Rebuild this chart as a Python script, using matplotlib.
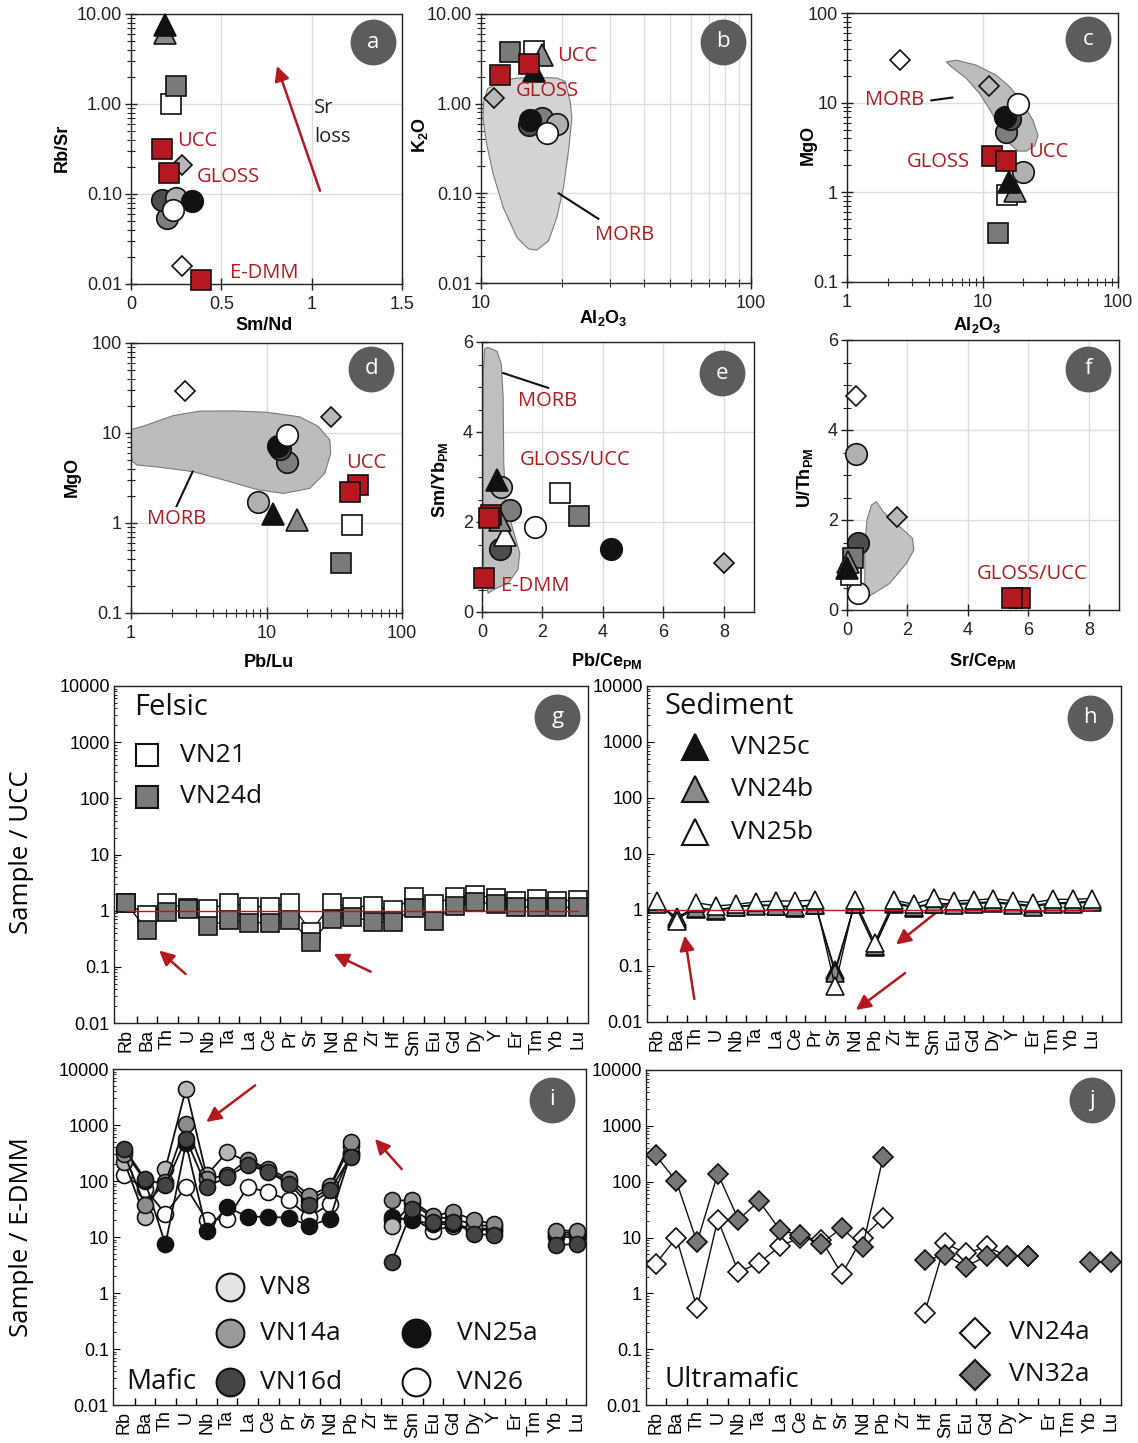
import numpy as np
import matplotlib
matplotlib.use("Agg")
import matplotlib.pyplot as plt
from matplotlib.ticker import LogLocator, MultipleLocator, NullFormatter, FixedLocator

W, H = 1138, 1443
nan = np.nan
RED = "#b3191e"
TAG = "#5c5c5c"
GRID = "#dcdcdc"
LABEL_FONT = "Open Sans"

plt.rcParams["font.family"] = ["Liberation Sans", "DejaVu Sans"]
plt.rcParams["mathtext.fontset"] = "custom"
plt.rcParams["mathtext.rm"] = "Liberation Sans"
plt.rcParams["mathtext.bf"] = "Liberation Sans:bold"

# ---------------- scatter panels a-f ----------------
SAMPLES = ["VN24a", "VN32a", "VN14a", "VN16d", "VN8", "VN25a", "VN26",
           "VN21", "VN24d", "VN25b", "VN24b", "VN25c", "GLOSS", "UCC", "E-DMM"]

A_X = [0.285, 0.28, 0.20, 0.17, 0.25, 0.34, 0.23, 0.22, 0.25, nan, 0.19, 0.19, 0.21, 0.17, 0.39]
A_Y = [0.016, 0.21, 0.054, 0.085, 0.09, 0.083, 0.066, 1.0, 1.58, nan, 6.1, 7.6, 0.17, 0.32, 0.011]

B_X = [nan, 11.2, 16.8, 15.0, 19.1, 15.2, 17.5, 15.7, 12.8, nan, 16.8, 15.7, 11.8, 15.0, nan]
B_Y = [nan, 1.17, 0.69, 0.58, 0.59, 0.66, 0.47, 3.9, 3.8, nan, 3.5, 2.3, 2.07, 2.8, nan]

C_X = [2.45, 11.2, 15.0, 16.0, 19.9, 14.6, 18.3, 15.2, 13.0, nan, 17.3, 15.7, 11.8, 15.0, nan]
C_Y = [29.8, 15.2, 4.7, 6.6, 1.67, 6.9, 9.6, 0.94, 0.35, nan, 1.04, 1.29, 2.57, 2.26, nan]

D_X = [2.5, 29.8, 14.2, 12.5, 8.7, 12.1, 14.2, 43.0, 35.7, nan, 16.9, 11.2, 47.4, 41.1, nan]
D_Y = [29.3, 15.1, 4.8, 6.7, 1.72, 7.1, 9.6, 0.94, 0.36, nan, 1.09, 1.27, 2.64, 2.22, nan]

E_X = [nan, 8.0, 0.92, 0.59, 0.64, 4.27, 1.75, 2.58, 3.22, 0.75, 0.59, 0.48, 0.30, 0.22, 0.06]
E_Y = [nan, 1.08, 2.27, 1.40, 2.77, 1.39, 1.88, 2.65, 2.14, 1.72, 2.04, 2.93, 2.15, 2.08, 0.75]

F_X = [0.29, 1.64, nan, 0.36, 0.31, nan, 0.36, 0.14, 0.20, nan, 0.03, 0.0, 5.72, 5.45, nan]
F_Y = [4.76, 2.06, nan, 1.48, 3.47, nan, 0.37, 0.78, 1.15, nan, 1.07, 0.93, 0.26, 0.26, nan]

# MORB fields
B_MORB_X = [10.23, 10.58, 11.79, 13.59, 16.58, 19.1, 20.5, 21.4, 21.7, 21.1, 20.2, 19.1,
            17.8, 16.1, 15.0, 13.6, 12.1, 11.1, 10.5, 10.17]
B_MORB_Y = [1.06, 1.47, 1.77, 1.93, 1.96, 1.93, 1.77, 1.06, 0.69, 0.30, 0.116, 0.054,
            0.0296, 0.0233, 0.024, 0.032, 0.069, 0.163, 0.35, 0.69]
C_MORB_X = [5.41, 6.41, 9.0, 12.65, 15.9, 19.9, 23.6, 25.7, 24.3, 21.1, 18.3, 15.9,
            13.8, 11.6, 9.53, 7.6, 5.89]
C_MORB_Y = [28.5, 29.8, 26.2, 20.2, 15.0, 9.75, 6.34, 4.31, 3.33, 2.88, 2.88, 3.48,
            4.9, 7.87, 12.6, 18.6, 25.1]
D_MORB_X = [1.0, 1.23, 2.05, 3.22, 5.68, 10.0, 17.6, 24.0, 29.3, 29.8, 26.9, 20.8,
            13.3, 8.44, 5.07, 2.88, 1.64, 1.10, 1.03, 1.0]
D_MORB_Y = [10.9, 11.9, 15.6, 17.5, 17.6, 17.0, 15.1, 11.9, 8.42, 5.97, 3.56, 2.42,
            2.13, 2.36, 2.95, 3.72, 4.16, 4.42, 4.82, 5.48]
E_MORB_X = [0.09, 0.2, 0.5, 0.64, 0.7, 0.72, 0.79, 1.03, 1.25, 1.19, 0.86, 0.48,
            0.2, 0.055, 0.033, 0.033, 0.044]
E_MORB_Y = [5.85, 5.88, 5.79, 5.51, 4.77, 3.30, 2.41, 1.82, 1.31, 0.94, 0.64, 0.53,
            0.42, 0.94, 2.56, 4.04, 5.37]
F_MORB_X = [0.40, 0.59, 0.59, 0.66, 0.81, 0.97, 1.19, 1.75, 2.17, 2.21, 1.97, 1.41, 0.75, 0.48]
F_MORB_Y = [0.26, 0.59, 1.41, 2.0, 2.33, 2.41, 2.19, 1.85, 1.59, 1.33, 1.04, 0.59, 0.31, 0.22]

# ---------------- spider panels g-j ----------------
ELEMENTS = ["Rb", "Ba", "Th", "U", "Nb", "Ta", "La", "Ce", "Pr", "Sr", "Nd", "Pb",
            "Zr", "Hf", "Sm", "Eu", "Gd", "Dy", "Y", "Er", "Tm", "Yb", "Lu"]
SPIDER_TICKS = [0.01, 0.1, 1, 10, 100, 1000, 10000]
SPIDER_TICKLABELS = ["0.01", "0.1", "1", "10", "100", "1000", "10000"]

G_VN21 = [1.35, 0.84, 1.35, 1.1, 1.06, 1.35, 1.18, 1.18, 1.35, 0.42, 1.35, 1.18,
          1.2, 1.03, 1.73, 1.31, 1.78, 1.9, 1.66, 1.5, 1.6, 1.5, 1.55]
G_VN24D = [1.35, 0.45, 0.93, 1.07, 0.53, 0.68, 0.61, 0.61, 0.68, 0.28, 0.71, 0.78,
           0.64, 0.62, 1.1, 0.66, 1.21, 1.45, 1.3, 1.15, 1.18, 1.15, 1.15]

H_VN25C = [1.35, 0.7, 1.05, 0.95, 1.15, 1.25, 1.2, 1.1, 1.25, 0.085, 1.3, 0.22,
           1.3, 1.1, 1.3, 1.3, 1.35, 1.4, 1.3, 1.2, 1.35, 1.35, 1.45]
H_VN24B = [1.3, 0.75, 1.1, 1.0, 1.15, 1.2, 1.2, 1.15, 1.25, 0.075, 1.3, 0.23,
           1.35, 1.15, 1.3, 1.25, 1.3, 1.35, 1.25, 1.15, 1.3, 1.3, 1.4]
H_VN25B = [1.45, 0.63, 1.35, 1.18, 1.26, 1.39, 1.45, 1.45, 1.5, 0.044, 1.5, 0.26,
           1.5, 1.26, 1.66, 1.45, 1.5, 1.6, 1.45, 1.35, 1.55, 1.55, 1.6]

I_VN26 = [126, 73, 26, 78, 20, 21, 78, 63, 45, 23, 39, 320,
          nan, 20, 22, 13, 16, 14, 14, nan, nan, 11, 11]
I_VN25A = [350, 100, 7.4, 470, 13, 34, 23, 23, 22, 16, 21, 300,
           nan, 23, 20, 17, 17, 14, 13, nan, nan, 10, 10]
I_VN8 = [220, 23, 167, 4460, 126, 330, 220, 150, 100, 45, 75, 430,
         nan, 16, 40, 22, 22, 16, 16, nan, nan, 12, 12]
I_VN14A = [300, 37, 95, 1060, 110, 126, 240, 165, 110, 55, 80, 500,
           nan, 45, 45, 24, 28, 20, 17, nan, nan, 13, 13]
I_VN16D = [380, 110, 84, 570, 78, 118, 195, 145, 90, 37, 68, 270,
           nan, 3.6, 31, 18.5, 18.5, 11.5, 10.7, nan, nan, 7.1, 7.6]

J_VN24A = [3.4, 9.9, 0.54, 21, 2.4, 3.5, 7.0, 10, 9.2, 2.2, 10, 22.6,
           nan, 0.44, 7.9, 5.2, 6.9, 4.6, 4.6, nan, nan, nan, nan]
J_VN32A = [297, 101, 8.2, 139, 21, 45, 13.7, 10.9, 7.7, 14.9, 6.7, 277,
           nan, 3.9, 4.9, 3.0, 4.7, 4.6, 4.6, nan, nan, 3.6, 3.6]

# marker, face colour, marker size (pt) used in panels a-f
STYLE = {
    "VN24a": ("D", "white", 10.5),
    "VN32a": ("D", "#b8b8b8", 10.5),
    "VN14a": ("o", "#7d7d7d", 15.5),
    "VN16d": ("o", "#4d4d4d", 15.5),
    "VN8": ("o", "#b0b0b0", 15.5),
    "VN25a": ("o", "#111111", 15.5),
    "VN26": ("o", "white", 15.5),
    "VN21": ("s", "white", 14.5),
    "VN24d": ("s", "#7a7a7a", 14.5),
    "VN25b": ("^", "white", 16),
    "VN24b": ("^", "#8a8a8a", 16),
    "VN25c": ("^", "#111111", 16),
    "GLOSS": ("s", RED, 14.5),
    "UCC": ("s", RED, 14.5),
    "E-DMM": ("s", RED, 14.5),
}


def px_axes(fig, left, top, right, bottom):
    return fig.add_axes([left / W, 1 - bottom / H, (right - left) / W, (bottom - top) / H])


def fig_text(fig, x, y, s, **kw):
    fig.text(x / W, 1 - y / H, s, ha="center", va="center", **kw)


def panel_tag(ax, fx, fy, letter):
    ax.plot([fx], [fy], marker="o", ms=33, mfc=TAG, mec="none",
            transform=ax.transAxes, clip_on=False, zorder=20)
    ax.text(fx, fy, letter, transform=ax.transAxes, ha="center", va="center",
            color="white", fontsize=16, family=LABEL_FONT, zorder=21)


def red_text(ax, x, y, s, ha="left"):
    ax.text(x, y, s, color=RED, fontsize=14.5, family=LABEL_FONT, ha=ha, va="center", zorder=15)


def style_box(ax):
    for sp in ax.spines.values():
        sp.set_color("#222222")
        sp.set_linewidth(1.0)
    ax.tick_params(which="both", direction="inout", colors="#222222", labelsize=13)
    ax.tick_params(which="major", length=9, width=1.0)
    ax.tick_params(which="minor", length=6, width=0.8)
    ax.tick_params(axis="y", pad=2)
    ax.tick_params(axis="x", pad=4)
    ax.set_axisbelow(True)


def scatter_samples(ax, xs, ys):
    for name, x, y in zip(SAMPLES, xs, ys):
        if np.isnan(x):
            continue
        mk, fc, ms = STYLE[name]
        ax.plot([x], [y], marker=mk, ms=ms, mfc=fc, mec="#111111", mew=1.2,
                ls="none", clip_on=False, zorder=5)


def morb(ax, xs, ys, fc):
    ax.fill(xs, ys, facecolor=fc, edgecolor="#7a7a7a", lw=0.8, zorder=2)


def log_axis(axis, ticks):
    axis.set_major_locator(FixedLocator(ticks))
    axis.set_minor_locator(LogLocator(base=10, subs=np.arange(2, 10)))
    axis.set_minor_formatter(NullFormatter())


def main():
    fig = plt.figure(figsize=(W / 100, H / 100), dpi=100)
    fig.patch.set_facecolor("white")

    # ---- a ----
    ax = px_axes(fig, 131, 14, 402, 284)
    style_box(ax)
    ax.set_yscale("log")
    ax.set_xlim(0, 1.5)
    ax.set_ylim(0.01, 10)
    log_axis(ax.yaxis, [0.01, 0.1, 1, 10])
    ax.set_yticks([0.01, 0.1, 1, 10], ["0.01", "0.10", "1.00", "10.00"])
    ax.set_xticks([0, 0.5, 1, 1.5], ["0", "0.5", "1", "1.5"])
    ax.grid(True, which="major", color=GRID, lw=1)
    scatter_samples(ax, A_X, A_Y)
    red_text(ax, 0.255, 0.39, "UCC")
    red_text(ax, 0.362, 0.156, "GLOSS")
    red_text(ax, 0.546, 0.0131, "E-DMM")
    ax.text(1.015, 0.895, "Sr", fontsize=14.5, family=LABEL_FONT, va="center", color="#222222")
    ax.text(1.015, 0.434, "loss", fontsize=14.5, family=LABEL_FONT, va="center", color="#222222")
    ax.annotate("", xy=(0.803, 2.83), xytext=(1.051, 0.1016),
                arrowprops=dict(arrowstyle="-|>", color=RED, lw=1.8, mutation_scale=22))
    panel_tag(ax, 0.893, 0.896, "a")
    fig_text(fig, 264, 326, "Sm/Nd", fontsize=13, fontweight="bold")
    fig_text(fig, 62, 148, "Rb/Sr", fontsize=13, fontweight="bold", rotation=90)

    # ---- b ----
    ax = px_axes(fig, 481, 14, 751, 283)
    style_box(ax)
    ax.set_xscale("log")
    ax.set_yscale("log")
    ax.set_xlim(10, 100)
    ax.set_ylim(0.01, 10)
    log_axis(ax.yaxis, [0.01, 0.1, 1, 10])
    log_axis(ax.xaxis, [10, 100])
    ax.set_yticks([0.01, 0.1, 1, 10], ["0.01", "0.10", "1.00", "10.00"])
    ax.set_xticks([10, 100], ["10", "100"])
    ax.grid(True, which="major", color=GRID, lw=1)
    ax.xaxis.grid(True, which="minor", color=GRID, lw=1)
    morb(ax, B_MORB_X, B_MORB_Y, "#d3d3d3")
    ax.plot([19.4, 27.2], [0.1, 0.052], color="#111111", lw=1.5, zorder=3)
    scatter_samples(ax, B_X, B_Y)
    red_text(ax, 19.1, 3.36, "UCC")
    red_text(ax, 13.4, 1.37, "GLOSS")
    red_text(ax, 33.9, 0.034, "MORB", ha="center")
    panel_tag(ax, 0.896, 0.896, "b")
    fig_text(fig, 603, 318, r"$\mathbf{Al_2O_3}$", fontsize=13)
    fig_text(fig, 420, 135, r"$\mathbf{K_2O}$", fontsize=13, rotation=90)

    # ---- c ----
    ax = px_axes(fig, 847, 13, 1118, 282)
    style_box(ax)
    ax.set_xscale("log")
    ax.set_yscale("log")
    ax.set_xlim(1, 100)
    ax.set_ylim(0.1, 100)
    log_axis(ax.yaxis, [0.1, 1, 10, 100])
    log_axis(ax.xaxis, [1, 10, 100])
    ax.set_yticks([0.1, 1, 10, 100], ["0.1", "1", "10", "100"])
    ax.set_xticks([1, 10, 100], ["1", "10", "100"])
    ax.grid(True, which="major", color=GRID, lw=1)
    morb(ax, C_MORB_X, C_MORB_Y, "#bcbcbc")
    ax.plot([4.19, 5.99], [10.6, 11.4], color="#111111", lw=1.5, zorder=3)
    scatter_samples(ax, C_X, C_Y)
    red_text(ax, 3.74, 10.6, "MORB", ha="right")
    red_text(ax, 8.04, 2.17, "GLOSS", ha="right")
    red_text(ax, 21.7, 2.8, "UCC")
    panel_tag(ax, 0.889, 0.903, "c")
    fig_text(fig, 977, 325, r"$\mathbf{Al_2O_3}$", fontsize=13)
    fig_text(fig, 808, 145, "MgO", fontsize=13, fontweight="bold", rotation=90)

    # ---- d ----
    ax = px_axes(fig, 131, 343, 402, 613)
    style_box(ax)
    ax.set_xscale("log")
    ax.set_yscale("log")
    ax.set_xlim(1, 100)
    ax.set_ylim(0.1, 100)
    log_axis(ax.yaxis, [0.1, 1, 10, 100])
    log_axis(ax.xaxis, [1, 10, 100])
    ax.set_yticks([0.1, 1, 10, 100], ["0.1", "1", "10", "100"])
    ax.set_xticks([1, 10, 100], ["1", "10", "100"])
    ax.grid(True, which="major", color=GRID, lw=1)
    morb(ax, D_MORB_X, D_MORB_Y, "#bcbcbc")
    ax.plot([2.85, 2.17], [3.72, 1.54], color="#111111", lw=1.5, zorder=3)
    scatter_samples(ax, D_X, D_Y)
    red_text(ax, 2.17, 1.12, "MORB", ha="center")
    red_text(ax, 38.9, 4.6, "UCC")
    panel_tag(ax, 0.886, 0.904, "d")
    fig_text(fig, 269, 662, "Pb/Lu", fontsize=13, fontweight="bold")
    fig_text(fig, 72, 477, "MgO", fontsize=13, fontweight="bold", rotation=90)

    # ---- e ----
    ax = px_axes(fig, 482, 342, 754, 612)
    style_box(ax)
    ax.set_xlim(0, 9)
    ax.set_ylim(0, 6)
    ax.set_xticks([0, 2, 4, 6, 8])
    ax.set_yticks([0, 2, 4, 6])
    ax.yaxis.set_minor_locator(MultipleLocator(0.5))
    ax.grid(True, which="major", color=GRID, lw=1)
    morb(ax, E_MORB_X, E_MORB_Y, "#bfbfbf")
    ax.plot([0.70, 2.19], [5.31, 4.98], color="#111111", lw=1.5, zorder=3)
    scatter_samples(ax, E_X, E_Y)
    red_text(ax, 1.2, 4.7, "MORB")
    red_text(ax, 1.25, 3.37, "GLOSS/UCC")
    red_text(ax, 0.64, 0.57, "E-DMM")
    panel_tag(ax, 0.882, 0.885, "e")
    fig_text(fig, 607, 661, r"$\mathbf{Pb/Ce_{PM}}$", fontsize=13)
    fig_text(fig, 440, 480, r"$\mathbf{Sm/Yb_{PM}}$", fontsize=13, rotation=90)

    # ---- f ----
    ax = px_axes(fig, 847, 340, 1119, 610)
    style_box(ax)
    ax.set_xlim(0, 9)
    ax.set_ylim(0, 6)
    ax.set_xticks([0, 2, 4, 6, 8])
    ax.set_yticks([0, 2, 4, 6])
    ax.yaxis.set_minor_locator(MultipleLocator(0.5))
    ax.grid(True, which="major", color=GRID, lw=1)
    morb(ax, F_MORB_X, F_MORB_Y, "#c2c2c2")
    scatter_samples(ax, F_X, F_Y)
    red_text(ax, 4.29, 0.81, "GLOSS/UCC")
    panel_tag(ax, 0.886, 0.893, "f")
    fig_text(fig, 983, 661, r"$\mathbf{Sr/Ce_{PM}}$", fontsize=13)
    fig_text(fig, 805, 478, r"$\mathbf{U/Th_{PM}}$", fontsize=13, rotation=90)

    # ---------------- spider diagrams ----------------
    xs = np.arange(len(ELEMENTS))

    def spider_axes(left, top, right, bottom, xlim, n_minor):
        sax = px_axes(fig, left, top, right, bottom)
        sax.set_yscale("log")
        sax.set_ylim(0.01, 10000)
        sax.set_xlim(*xlim)
        for sp in sax.spines.values():
            sp.set_color("#222222")
            sp.set_linewidth(1.0)
        sax.set_yticks(SPIDER_TICKS, SPIDER_TICKLABELS)
        sax.yaxis.set_minor_locator(LogLocator(base=10, subs=np.arange(2, 10)))
        sax.yaxis.set_minor_formatter(NullFormatter())
        sax.tick_params(axis="y", which="major", direction="in", length=5, labelsize=13, pad=3)
        sax.tick_params(axis="y", which="minor", direction="in", length=2.5, width=0.6)
        sax.set_xticks(xs, ELEMENTS, rotation=90)
        sax.tick_params(axis="x", which="major", length=0, labelsize=13, pad=4)
        sax.set_xticks(np.arange(n_minor) + 0.5, minor=True)
        sax.tick_params(axis="x", which="minor", direction="in", length=5, width=1.0)
        return sax

    def series(sax, vals, mk, fc, ms, lw=1.0):
        sax.plot(xs, vals, color="#111111", lw=lw, marker=mk, ms=ms, mfc=fc,
                 mec="#111111", mew=1.2, zorder=4)

    def legend_mark(sax, fx, fy, mk, fc, ms):
        sax.plot([fx], [fy], marker=mk, ms=ms, mfc=fc, mec="#111111", mew=1.5,
                 transform=sax.transAxes, clip_on=False, zorder=6)

    def big_text(sax, fx, fy, s, size=19):
        sax.text(fx, fy, s, transform=sax.transAxes, fontsize=size, family=LABEL_FONT,
                 ha="left", va="center", color="#111111", zorder=6)

    def red_arrow(sax, tail, head):
        sax.annotate("", xy=head, xytext=tail,
                     arrowprops=dict(arrowstyle="-|>", color=RED, lw=1.8, mutation_scale=22))

    # ---- g ----
    ax = spider_axes(114, 686, 588, 1023, (-0.6, 22.5), 22)
    series(ax, G_VN21, "s", "white", 12.6)
    series(ax, G_VN24D, "s", "#7a7a7a", 12.6)
    ax.plot([0, 22], [1, 1], color=RED, lw=1.0, zorder=5)
    big_text(ax, 0.042, 0.935, "Felsic", 21)
    legend_mark(ax, 0.070, 0.795, "s", "white", 16)
    legend_mark(ax, 0.070, 0.671, "s", "#7a7a7a", 16)
    big_text(ax, 0.139, 0.795, "VN21")
    big_text(ax, 0.139, 0.671, "VN24d")
    red_arrow(ax, (2.99, 0.069), (1.50, 0.21))
    red_arrow(ax, (12.03, 0.078), (9.98, 0.178))
    panel_tag(ax, 0.935, 0.908, "g")
    fig_text(fig, 22, 852, "Sample / UCC", fontsize=18.5, family=LABEL_FONT, rotation=90)

    # ---- h ----
    ax = spider_axes(647, 686, 1121, 1022, (-0.5, 23.45), 23)
    series(ax, H_VN25C, "^", "#111111", 12.5)
    series(ax, H_VN24B, "^", "#8a8a8a", 12.5)
    series(ax, H_VN25B, "^", "white", 12.5)
    ax.plot([0, 22], [1, 1], color=RED, lw=1.0, zorder=5)
    big_text(ax, 0.036, 0.9375, "Sediment", 21)
    legend_mark(ax, 0.101, 0.818, "^", "#111111", 18.5)
    legend_mark(ax, 0.101, 0.693, "^", "#8a8a8a", 18.5)
    legend_mark(ax, 0.101, 0.565, "^", "white", 18.5)
    big_text(ax, 0.178, 0.818, "VN25c")
    big_text(ax, 0.178, 0.693, "VN24b")
    big_text(ax, 0.178, 0.565, "VN25b")
    red_arrow(ax, (1.91, 0.023), (1.38, 0.39))
    red_arrow(ax, (14.7, 1.32), (11.97, 0.225))
    red_arrow(ax, (12.65, 0.080), (9.94, 0.0153))
    panel_tag(ax, 0.935, 0.905, "h")

    # ---- i ----
    ax = spider_axes(113, 1069, 586, 1405, (-0.55, 22.45), 22)
    series(ax, I_VN26, "o", "white", 11.5, 1.3)
    series(ax, I_VN25A, "o", "#111111", 11.5, 1.3)
    series(ax, I_VN8, "o", "#b8b8b8", 11.5, 1.3)
    series(ax, I_VN14A, "o", "#8c8c8c", 11.5, 1.3)
    series(ax, I_VN16D, "o", "#444444", 11.5, 1.3)
    legend_mark(ax, 0.247, 0.351, "o", "#e3e3e3", 20)
    legend_mark(ax, 0.247, 0.214, "o", "#9a9a9a", 20)
    legend_mark(ax, 0.247, 0.068, "o", "#444444", 20)
    legend_mark(ax, 0.641, 0.214, "o", "#111111", 20)
    legend_mark(ax, 0.641, 0.068, "o", "white", 20)
    big_text(ax, 0.311, 0.351, "VN8")
    big_text(ax, 0.311, 0.214, "VN14a")
    big_text(ax, 0.311, 0.068, "VN16d")
    big_text(ax, 0.727, 0.214, "VN25a")
    big_text(ax, 0.727, 0.068, "VN26")
    big_text(ax, 0.027, 0.068, "Mafic", 20)
    red_arrow(ax, (6.47, 5470), (3.88, 1057))
    red_arrow(ax, (13.58, 150), (12.1, 611))
    panel_tag(ax, 0.928, 0.908, "i")
    fig_text(fig, 22, 1237, "Sample / E-DMM", fontsize=18.5, family=LABEL_FONT, rotation=90)

    # ---- j ----
    ax = spider_axes(646, 1070, 1121, 1405, (-0.47, 22.5), 22)
    series(ax, J_VN24A, "D", "white", 9.7)
    series(ax, J_VN32A, "D", "#777777", 9.7)
    legend_mark(ax, 0.692, 0.215, "D", "white", 15.5)
    legend_mark(ax, 0.692, 0.090, "D", "#777777", 15.5)
    big_text(ax, 0.764, 0.215, "VN24a")
    big_text(ax, 0.764, 0.090, "VN32a")
    big_text(ax, 0.038, 0.075, "Ultramafic", 20)
    panel_tag(ax, 0.939, 0.910, "j")

    fig.savefig("out.png", dpi=100, facecolor="white")


if __name__ == "__main__":
    main()
